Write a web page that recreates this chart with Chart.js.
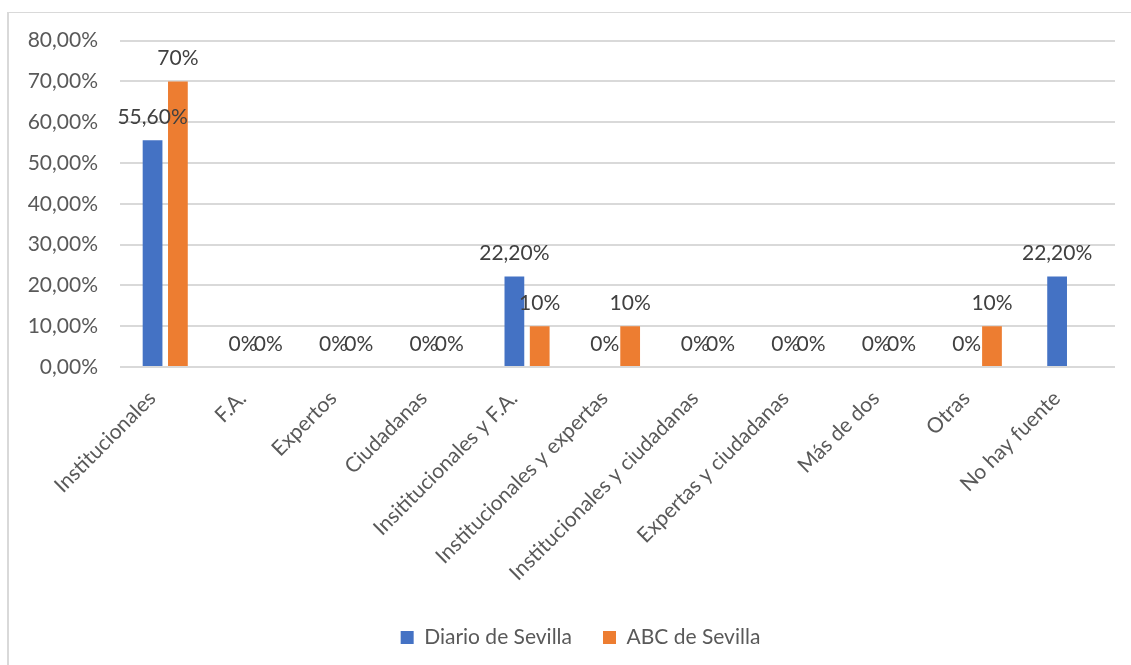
<!DOCTYPE html>
<html>
<head>
<meta charset="utf-8">
<script src="https://cdn.jsdelivr.net/npm/chart.js@4.4.0/dist/chart.umd.min.js"></script>
<style>
  html, body { margin: 0; padding: 0; background: #fff; }
  #frame {
    position: absolute; left: 7px; top: 12px; width: 1130px; height: 660px;
    border-left: 2px solid #d9d9d9; border-top: 1px solid #d9d9d9;
  }
  #wrap { position: absolute; left: 1px; top: -7px; width: 1122px; height: 652px; }
</style>
</head>
<body>
<div id="frame"><div id="wrap"><canvas id="fuentes"></canvas></div></div>
<script>
const categories = [
  'Institucionales', 'F.A.', 'Expertos', 'Ciudadanas', 'Insititucionales y F.A.',
  'Institucionales y expertas', 'Institucionales y ciudadanas', 'Expertas y ciudadanas',
  'Más de dos', 'Otras', 'No hay fuente'
];
const diario = [55.6, 0, 0, 0, 22.2, 0, 0, 0, 0, 0, 22.2];
const abc = [70, 0, 0, 0, 10, 10, 0, 0, 0, 10, null];
const decimals = [2, 0]; // Diario shows "55,60%", ABC shows "70%"
const yTicks = [0, 10, 20, 30, 40, 50, 60, 70, 80];

const fontFamily = 'Lato, "Liberation Sans", sans-serif';
const fontSize = 21;

// data labels over each bar, like the Excel ones
const barLabels = {
  id: 'barLabels',
  afterDatasetsDraw(chart) {
    const ctx = chart.ctx;
    ctx.save();
    ctx.font = fontSize + 'px ' + fontFamily;
    ctx.fillStyle = '#404040';
    ctx.textAlign = 'center';
    ctx.textBaseline = 'middle';
    chart.data.datasets.forEach((ds, di) => {
      const meta = chart.getDatasetMeta(di);
      meta.data.forEach((bar, i) => {
        const v = ds.data[i];
        if (v === null || v === undefined) return;
        const txt = v === 0 ? '0%' : v.toFixed(decimals[di]).replace('.', ',') + '%';
        ctx.fillText(txt, bar.x, bar.y - 23);
      });
    });
    ctx.restore();
  }
};

// the Excel legend sits a bit right of the canvas centre
const legendShift = {
  id: 'legendShift',
  afterLayout(chart) {
    chart.legend.left += 18;
    chart.legend.right += 18;
  }
};

const config = {
  type: 'bar',
  data: {
    labels: categories,
    datasets: [{
      label: 'Diario de Sevilla',
      data: diario,
      backgroundColor: '#4472C4',
      categoryPercentage: 0.56,
      barPercentage: 0.78
    },
    {
      label: 'ABC de Sevilla',
      data: abc,
      backgroundColor: '#ED7D31',
      categoryPercentage: 0.56,
      barPercentage: 0.78
    }]
  },
  options: {
    responsive: true,
    maintainAspectRatio: false,
    animation: false,
    layout: {
      padding: { top: 17, right: 17, bottom: 0, left: 0 }
    },
    plugins: {
      legend: {
        position: 'bottom',
        labels: {
          color: '#595959',
          font: { family: fontFamily, size: fontSize },
          boxWidth: 13,
          boxHeight: 13,
          padding: 31
        }
      },
      tooltip: { enabled: false }
    },
    scales: {
      x: {
        grid: { display: false, drawTicks: false },
        border: { display: false },
        ticks: {
          color: '#595959',
          font: { family: fontFamily, size: fontSize },
          maxRotation: 45,
          minRotation: 45,
          padding: 19,
          labelOffset: -13
        },
        afterFit(scale) { scale.height = 229; }
      },
      y: {
        min: 0,
        max: 80,
        afterBuildTicks(scale) { scale.ticks = yTicks.map(v => ({ value: v })); },
        grid: { color: '#d9d9d9', lineWidth: 2, drawTicks: false },
        border: { display: false },
        ticks: {
          color: '#595959',
          font: { family: fontFamily, size: fontSize },
          padding: 22,
          callback: (v) => v.toFixed(2).replace('.', ',') + '%'
        },
        afterFit(scale) { scale.width = 110; }
      }
    }
  },
  plugins: [barLabels, legendShift]
};

const fuentesChart = new Chart(document.getElementById('fuentes'), config);
</script>
</body>
</html>
